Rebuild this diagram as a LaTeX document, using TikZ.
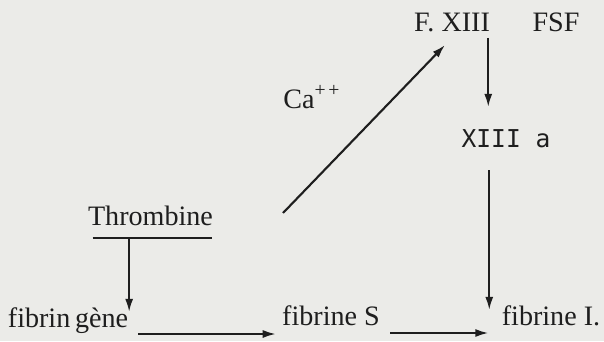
\documentclass[tikz,border=0pt]{standalone}
\usepackage{fontspec}
\setmainfont{Liberation Serif}
\newfontfamily\monofont{DejaVu Sans Mono}
\usetikzlibrary{arrows.meta,positioning,calc}
\definecolor{paper}{RGB}{235,235,232}
\definecolor{ink}{RGB}{30,30,30}

\begin{document}
\begin{tikzpicture}[x=0.02cm, y=-0.02cm,
    lbl/.style={inner sep=0pt, anchor=base, text=ink, font=\fontsize{16}{19}\selectfont},
    mono/.style={inner sep=0pt, anchor=base, text=ink, font=\monofont\fontsize{14}{16}\selectfont},
    arr/.style={-{Latex[length=7.5pt, width=4.6pt]}, line width=1.2pt, ink}
]
    % Background
    \fill[paper] (0,0) rectangle (604,341);
    \useasboundingbox (0,0) rectangle (604,341);

    % Factor XIII
    \node[lbl] (fx) at (452,32) {F. XIII};
    \node[lbl] (fsf) at (556,32) {FSF};
    \node[mono] (xa) at (506,147) {XIII a};
    \node[lbl, anchor=base west] (ca) at (283,108) {Ca\textsuperscript{+\kern1.5pt+}};

    % Thrombine
    \node[lbl] (thr) at (150.5,225) {Thrombine};
    \draw[ink, line width=1.2pt] ($(thr.base west)+(5,13)$) -- ($(thr.base east)+(-1,13)$);

    % Bottom row
    \node[lbl] (fib) at (68,327) {fibrin\,gène};
    \node[lbl] (fs) at (331,325) {fibrine S};
    \node[lbl] (fi) at (551,325) {fibrine I.};

    % Thrombine -> fibringene
    \coordinate (t) at ($(thr.base west)!0.33!(thr.base east)+(0,13)$);
    \draw[arr] (t) -- ($(t |- fib.base)+(0,-15)$);

    % Bottom arrows
    \draw[arr] ($(fib.base east)+(10,7)$) -- ($(fs.base west)+(-6,9)$);
    \draw[arr] ($(fs.base east)+(10,8)$) -- ($(fi.base west)+(-13,8)$);

    % Ca++ arrow
    \coordinate (c0) at (283,213);
    \draw[arr] (c0) -- ($(fx.base)+(-7,13)$);

    % F. XIII -> XIII a -> fibrine I.
    \coordinate (v) at ($(fx.base east)+(-2,0)$);
    \draw[arr] ($(v)+(0,6)$) -- ($(v |- xa.base)+(0,-40)$);
    \draw[arr] ($(v |- xa.base)+(1,23)$) -- ($(v |- fi.base)+(1,-15)$);
\end{tikzpicture}
\end{document}
